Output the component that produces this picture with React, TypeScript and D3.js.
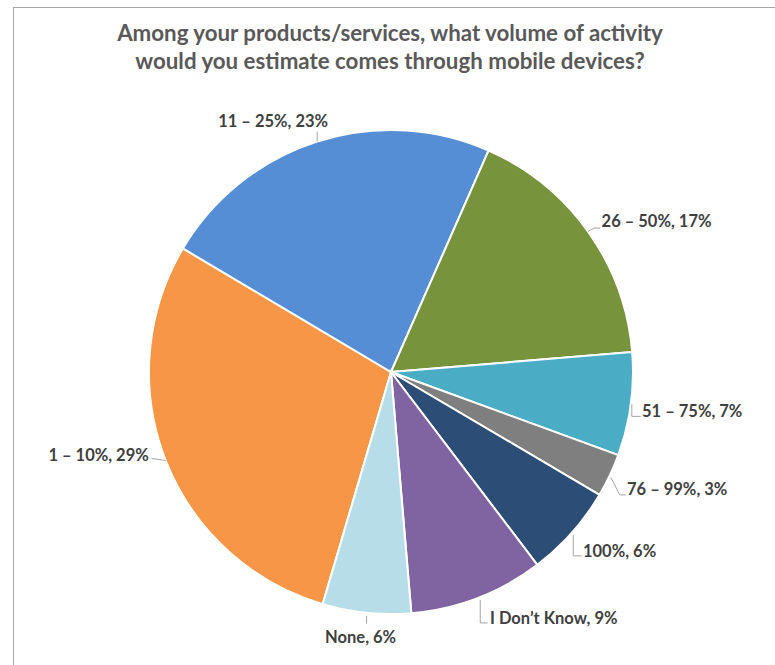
import React from "react";
import * as d3 from "d3";

const titleLines = [
  "Among your products/services, what volume of activity",
  "would you estimate comes through mobile devices?",
];
const categories = ["1 – 10%", "11 – 25%", "26 – 50%", "51 – 75%", "76 – 99%", "100%", "I Don’t Know", "None"];
const values = [29.0, 23.1, 17.1, 6.9, 2.9, 6.2, 9.0, 5.9];
const colors = ["#F79646", "#558ED5", "#77933C", "#4BACC6", "#7F7F7F", "#2C4D75", "#8064A2", "#B7DEE8"];

// label layout relative to the slice's mid-arc point: [dx, dy, anchor]
const labelOffsets: [number, number, string][] = [
  [-17, 0, "end"],
  [-44, -15, "middle"],
  [13.5, -4.3, "start"],
  [11.2, 12.3, "start"],
  [17.2, 19.6, "start"],
  [11.2, 23.8, "start"],
  [12.3, 26, "start"],
  [-6, 30, "middle"],
];
const leaderPaths: [number, number][][] = [
  [[0, 0], [-14, -2]],
  [[0, 0], [0, -10]],
  [[0, 0], [6, -3.5], [12, -3.5]],
  [[1, 0], [1, 12], [10, 12]],
  [[1, 2], [10, 19.5], [16, 19.5]],
  [[1.5, 2], [1.5, 23], [10, 23]],
  [[2.5, 2], [2.5, 25], [10, 25]],
  [[0, 3], [0, 11]],
];

const W = 775;
const H = 665;
const cx = 391;
const cy = 372;
const R = 242;
const startDeg = 196.4;

export default function App() {
  const total = d3.sum(values);
  const pie = d3
    .pie<number>()
    .sort(null)
    .value((d) => d)
    .startAngle((startDeg * Math.PI) / 180)
    .endAngle((startDeg * Math.PI) / 180 + 2 * Math.PI);
  const arcs = pie(values);
  const arcGen = d3.arc<d3.PieArcDatum<number>>().innerRadius(0).outerRadius(R);
  const line = d3.line();

  return (
    <svg
      width={W}
      height={H}
      style={{ position: "absolute", left: 0, top: 0, background: "#fff" }}
      fontFamily="Lato, 'Open Sans', sans-serif"
    >
      <line x1={13} y1={7.5} x2={W} y2={7.5} stroke="#a6a6a6" strokeWidth={1} />
      <line x1={13.5} y1={7} x2={13.5} y2={H} stroke="#a6a6a6" strokeWidth={1} />
      {titleLines.map((t, i) => (
        <text
          key={i}
          x={390}
          y={41 + i * 28}
          textAnchor="middle"
          fontSize={22.3}
          fontWeight="bold"
          fill="#595959"
        >
          {t}
        </text>
      ))}
      <g transform={`translate(${cx},${cy})`}>
        {arcs.map((a, i) => (
          <path key={i} d={arcGen(a) || ""} fill={colors[i]} stroke="#fff" strokeWidth={2} />
        ))}
        {arcs.map((a, i) => {
          const mid = (a.startAngle + a.endAngle) / 2;
          const px = R * Math.sin(mid);
          const py = -R * Math.cos(mid);
          const [dx, dy, anchor] = labelOffsets[i];
          const pts = leaderPaths[i].map(([x, y]) => [px + x, py + y] as [number, number]);
          return (
            <g key={"l" + i}>
              <path d={line(pts) || ""} fill="none" stroke="#a6a6a6" strokeWidth={1} />
              <text
                x={px + dx}
                y={py + dy}
                textAnchor={anchor as any}
                fontSize={16.5}
                fontWeight="bold"
                fill="#404040"
              >
                {`${categories[i]}, ${Math.round((values[i] / total) * 100)}%`}
              </text>
            </g>
          );
        })}
      </g>
    </svg>
  );
}
